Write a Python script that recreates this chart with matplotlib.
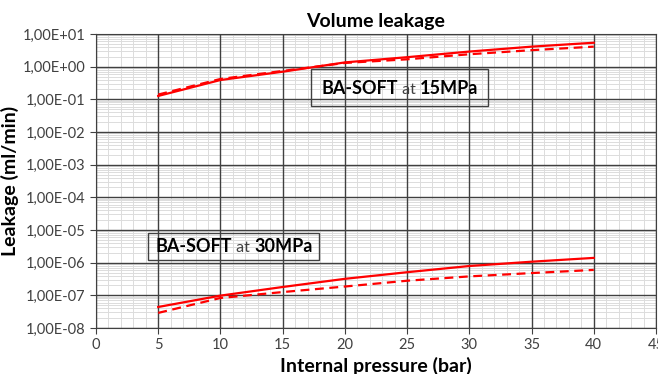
import matplotlib
matplotlib.use("Agg")
import matplotlib.pyplot as plt
from matplotlib.patches import Rectangle
from matplotlib.offsetbox import TextArea, HPacker, AnnotationBbox
from matplotlib.ticker import LogLocator, FixedLocator, FuncFormatter, NullFormatter

plt.rcParams["font.family"] = ["Lato", "DejaVu Sans"]

# internal pressure (bar)
pressure = [5, 10, 15, 20, 25, 30, 35, 40]

# leakage (ml/min)
soft15_solid = [0.127, 0.39, 0.70, 1.35, 1.95, 2.9, 4.1, 5.4]
soft15_dash = [0.14, 0.42, 0.74, 1.30, 1.68, 2.4, 3.2, 4.1]
soft30_solid = [4.4e-8, 9.8e-8, 1.8e-7, 3.2e-7, 5.1e-7, 7.9e-7, 1.07e-6, 1.4e-6]
soft30_dash = [2.9e-8, 8.3e-8, 1.26e-7, 1.86e-7, 2.8e-7, 3.8e-7, 4.8e-7, 6.0e-7]

x_ticks = [0, 5, 10, 15, 20, 25, 30, 35, 40, 45]
y_decades = [1e-8, 1e-7, 1e-6, 1e-5, 1e-4, 1e-3, 1e-2, 1e-1, 1e0, 1e1]
labels = [("BA-SOFT", " at ", "15MPa"), ("BA-SOFT", " at ", "30MPa")]

RED = "#ff0000"
GRID_DARK = "#404040"


def sci_comma(v, _pos):
    s = f"{v:.2E}"
    return s.replace(".", ",")


fig = plt.figure(figsize=(6.58, 3.74), dpi=100)
ax = fig.add_axes([96 / 658, 1 - 328 / 374, 560 / 658, 294 / 374])

ax.plot(pressure, soft15_solid, color=RED, lw=1.6, zorder=4)
ax.plot(pressure, soft15_dash, color=RED, lw=1.6, ls=(0, (4, 2.5)), zorder=4)
ax.plot(pressure, soft30_solid, color=RED, lw=1.6, zorder=4)
ax.plot(pressure, soft30_dash, color=RED, lw=1.6, ls=(0, (4, 2.5)), zorder=4)

ax.set_yscale("log")
ax.set_ylim(1e-8, 1e1)
ax.set_xlim(0, 45)
ax.xaxis.set_major_locator(FixedLocator(x_ticks))
ax.xaxis.set_minor_locator(FixedLocator([v for v in range(0, 46) if v % 5]))
ax.yaxis.set_major_locator(FixedLocator(y_decades))
ax.yaxis.set_minor_locator(LogLocator(base=10, subs=range(2, 10), numticks=20))
ax.yaxis.set_major_formatter(FuncFormatter(sci_comma))
ax.yaxis.set_minor_formatter(NullFormatter())

# light minor grid via the axes, dark major grid drawn on top of it
ax.grid(True, which="minor", color="#dcdcdc", lw=0.7)
ax.set_axisbelow(True)
ax.vlines(x_ticks, 1e-8, 1e1, color=GRID_DARK, lw=1.0, zorder=1.5)
ax.hlines(y_decades, 0, 45, color=GRID_DARK, lw=1.0, zorder=1.5)

ax.tick_params(which="minor", length=0)
ax.tick_params(which="major", length=4, color=GRID_DARK, labelsize=10.5,
               labelcolor=GRID_DARK, direction="out")
for sp in ax.spines.values():
    sp.set_color(GRID_DARK)

ax.set_title("Volume leakage", fontsize=14, fontweight="bold", pad=5)
ax.set_xlabel("Internal pressure (bar)", fontsize=14, fontweight="bold",
              labelpad=3)
ax.set_ylabel("Leakage (ml/min)", fontsize=14, fontweight="bold", labelpad=3)

# annotation boxes (axes fraction)
boxes = [(0.384, 0.755, 0.316, 0.126, 0.402, 0.816),
         (0.093, 0.231, 0.305, 0.092, 0.107, 0.276)]
for (bx, by, bw, bh, tx, ty), (a, b, c) in zip(boxes, labels):
    ax.add_patch(Rectangle((bx, by), bw, bh, transform=ax.transAxes,
                           fill=False, edgecolor=GRID_DARK, lw=1.0, zorder=5))
    pack = HPacker(children=[
        TextArea(a, textprops=dict(fontsize=13, fontweight="bold", color="black")),
        TextArea(b, textprops=dict(fontsize=11.5, color=GRID_DARK)),
        TextArea(c, textprops=dict(fontsize=13, fontweight="bold", color="black")),
    ], align="baseline", pad=0, sep=0)
    ab = AnnotationBbox(pack, (tx, ty), xycoords="axes fraction",
                        box_alignment=(0, 0.5), frameon=False, zorder=6)
    ax.add_artist(ab)

fig.savefig("out.png", dpi=100)
